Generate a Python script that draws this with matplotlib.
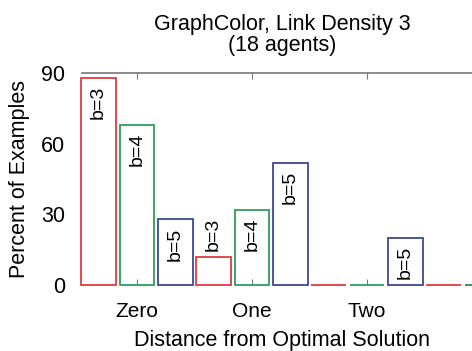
import numpy as np
import matplotlib
matplotlib.use("Agg")
import matplotlib.pyplot as plt

plt.rcParams['font.family'] = ['Liberation Sans', 'DejaVu Sans']

groups = ['Zero', 'One', 'Two', 'Three']
series = ['b=3', 'b=4', 'b=5']
vals_b3 = [88, 12, 0, 0]
vals_b4 = [68, 32, 0, 0]
vals_b5 = [28, 52, 20, 0]
colors = ['#e23a3f', '#2e9e5a', '#3d479c']

fig = plt.figure(figsize=(4.72, 3.51), dpi=100)
ax = fig.add_axes([82/472, 66/351, 400/472, 212/351])

x = np.arange(len(groups))
w = 0.30
offs = [-0.335, 0.0, 0.335]
for vals, off, c, lab in zip([vals_b3, vals_b4, vals_b5], offs, colors, series):
    bars = ax.bar(x + off, vals, w, facecolor='none', edgecolor=c, linewidth=1.3,
                  zorder=3, clip_on=False)
    for b, v in zip(bars, vals):
        if v <= 0:
            continue
        cx = b.get_x() + b.get_width() / 2
        if v > 15:
            ax.text(cx, v - 3.5, lab, rotation=90, ha='center', va='top', fontsize=14)
        else:
            ax.text(cx, v + 2.5, lab, rotation=90, ha='center', va='bottom', fontsize=14)

ax.set_xlim(-0.478, 3.0)
ax.set_ylim(0, 90)
ax.set_yticks([0, 30, 60, 90])
ax.set_xticks(x[:3])
ax.set_xticklabels(groups[:3], fontsize=15)
ax.tick_params(axis='y', labelsize=15.5, length=0, pad=12)
ax.tick_params(axis='x', direction='in', top=True, length=4, color='#777777', pad=12)
for s in ['left', 'right', 'bottom']:
    ax.spines[s].set_visible(False)
ax.spines['top'].set_color('#777777')
ax.spines['top'].set_linewidth(1.2)

ax.set_ylabel('Percent of Examples', fontsize=15.5, labelpad=8)
ax.set_xlabel('Distance from Optimal Solution', fontsize=15.5, labelpad=7)
ax.set_title('GraphColor, Link Density 3\n(18 agents)', fontsize=15.5, pad=16, linespacing=1.0)

fig.savefig('out.png', dpi=100)
